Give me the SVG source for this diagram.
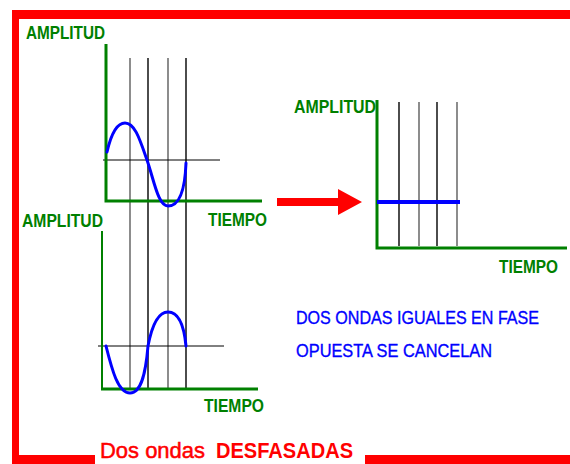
<svg xmlns="http://www.w3.org/2000/svg" width="570" height="464" viewBox="0 0 570 464">
<style>
.g{font-family:"Liberation Sans",Arial,sans-serif;font-weight:bold;font-size:19px;fill:#008000}
.b{font-family:"Liberation Sans",Arial,sans-serif;font-size:18px;fill:#0000ff;stroke:#0000ff;stroke-width:0.35}
.r{font-family:"Liberation Sans",Arial,sans-serif;font-size:22px;fill:#ff0000}
.ax{stroke:#008000;stroke-width:3;fill:none}
.vk{stroke:#000;stroke-width:1.4}
.vg{stroke:#707070;stroke-width:1.6}
.h{stroke:#000;stroke-width:1}
.w{stroke:#0000ff;stroke-width:3;fill:none;stroke-linecap:round}
.frame{fill:#ff0000}
</style>
<rect width="570" height="464" fill="#ffffff"/>
<g id="frame">
<rect class="frame" x="12" y="10" width="558" height="9"/>
<rect class="frame" x="12" y="10" width="7" height="454"/>
<rect class="frame" x="12" y="455" width="83" height="9"/>
<rect class="frame" x="365" y="455" width="205" height="9"/>
<text class="r" y="458"><tspan x="100" stroke="#ff0000" stroke-width="0.5" textLength="105" lengthAdjust="spacingAndGlyphs">Dos ondas</tspan><tspan x="216" font-weight="bold" textLength="137" lengthAdjust="spacingAndGlyphs">DESFASADAS</tspan></text>
</g>
<g id="grid">
<line class="vg" x1="130" y1="58" x2="130" y2="388"/>
<line class="vk" x1="148" y1="58" x2="148" y2="388"/>
<line class="vg" x1="168" y1="58" x2="168" y2="388"/>
<line class="vk" x1="186" y1="58" x2="186" y2="388"/>
</g>
<g id="top-graph">
<line class="h" x1="103" y1="160" x2="220" y2="160"/>
<polyline class="ax" points="106,44 106,201 262,201"/>
<path class="w" d="M107,152 C112,130 118,123 125,123 C135,123 140,140 147,160 C154,180 158,206 168,206 C180,206 185,190 186,163"/>
<text class="g" x="26" y="39" textLength="79" lengthAdjust="spacingAndGlyphs">AMPLITUD</text>
<text class="g" x="208" y="226" textLength="59" lengthAdjust="spacingAndGlyphs">TIEMPO</text>
</g>
<g id="bottom-graph">
<line class="h" x1="98" y1="346" x2="224" y2="346"/>
<line x1="102" y1="231" x2="102" y2="389" stroke="#008000" stroke-width="2"/>
<line class="ax" x1="101" y1="389" x2="258" y2="389"/>
<path class="w" d="M106,346 C112,370 118,393 130,393 C142,393 146,370 148,346 C152,325 158,312 168,312 C178,312 184,325 186,346"/>
<text class="g" x="22" y="227" textLength="81" lengthAdjust="spacingAndGlyphs">AMPLITUD</text>
<text class="g" x="204" y="412" textLength="60" lengthAdjust="spacingAndGlyphs">TIEMPO</text>
</g>
<g id="connectors">
<polygon fill="#ff0000" points="277,198 338,198 338,189 362,202 338,215 338,206 277,206"/>
</g>
<g id="result-graph">
<line class="vk" x1="399" y1="102" x2="399" y2="246"/>
<line class="vg" x1="419" y1="102" x2="419" y2="246"/>
<line class="vk" x1="437" y1="102" x2="437" y2="246"/>
<line class="vg" x1="457" y1="102" x2="457" y2="246"/>
<polyline class="ax" points="377,100 377,248 567,248"/>
<line x1="377" y1="202" x2="460" y2="202" stroke="#0000ff" stroke-width="4"/>
<text class="g" x="294" y="113" textLength="82" lengthAdjust="spacingAndGlyphs">AMPLITUD</text>
<text class="g" x="499" y="273" textLength="59" lengthAdjust="spacingAndGlyphs">TIEMPO</text>
</g>
<g id="caption">
<text class="b" x="296" y="324" textLength="243" lengthAdjust="spacingAndGlyphs">DOS ONDAS IGUALES EN FASE</text>
<text class="b" x="296" y="357" textLength="196" lengthAdjust="spacingAndGlyphs">OPUESTA SE CANCELAN</text>
</g>
</svg>
